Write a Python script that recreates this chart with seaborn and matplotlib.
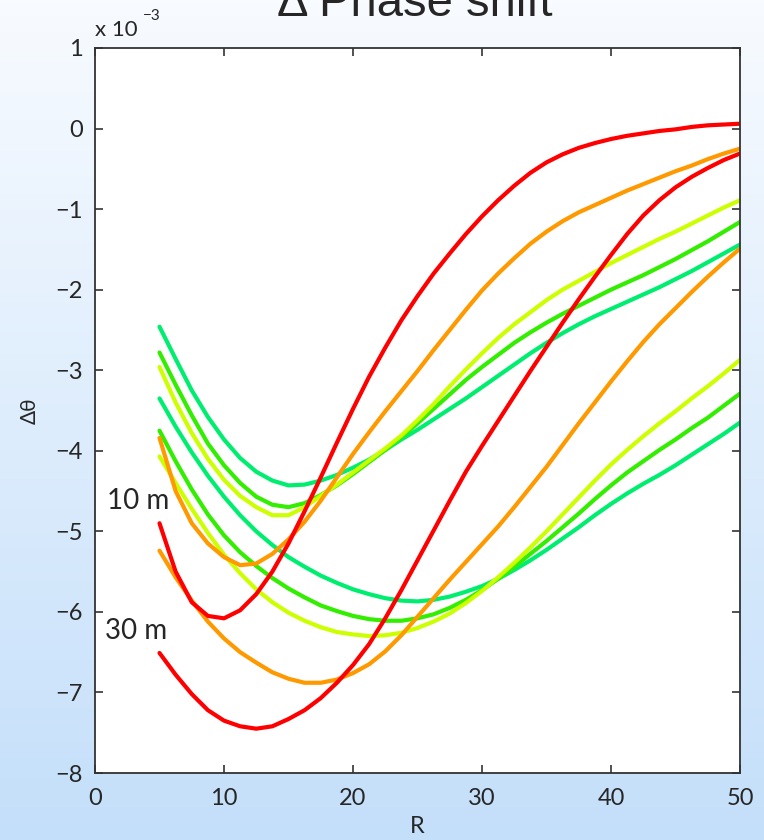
import numpy as np
import pandas as pd
import seaborn as sns
import matplotlib
matplotlib.use('Agg')
import matplotlib.pyplot as plt

# R samples, and phase shift values (units of 1e-3)
r_vals = [5.0, 6.25, 7.5, 8.75, 10.0, 11.25, 12.5, 13.75, 15.0, 16.25,
          17.5, 18.75, 20.0, 21.25, 22.5, 23.75, 25.0, 26.25, 27.5, 28.75,
          30.0, 31.25, 32.5, 33.75, 35.0, 36.25, 37.5, 38.75, 40.0, 41.25,
          42.5, 43.75, 45.0, 46.25, 47.5, 48.75, 50.0]

# 10 m family
red_10 = [-4.90, -5.50, -5.88, -6.05, -6.08, -5.98, -5.78, -5.50, -5.15, -4.75,
          -4.33, -3.90, -3.48, -3.08, -2.72, -2.38, -2.08, -1.80, -1.55, -1.31,
          -1.09, -0.89, -0.71, -0.55, -0.42, -0.32, -0.24, -0.18, -0.13, -0.09,
          -0.06, -0.03, -0.01, 0.02, 0.04, 0.05, 0.06]
orange_10 = [-3.84, -4.50, -4.90, -5.15, -5.32, -5.42, -5.40, -5.28, -5.10, -4.88,
             -4.62, -4.33, -4.04, -3.77, -3.51, -3.26, -3.01, -2.75, -2.50, -2.25,
             -2.01, -1.80, -1.61, -1.43, -1.28, -1.15, -1.04, -0.95, -0.86, -0.77,
             -0.69, -0.61, -0.53, -0.46, -0.38, -0.31, -0.25]
yellow_10 = [-2.96, -3.40, -3.78, -4.10, -4.36, -4.56, -4.70, -4.80, -4.80, -4.70,
             -4.56, -4.42, -4.27, -4.12, -3.97, -3.81, -3.62, -3.42, -3.20, -2.99,
             -2.79, -2.60, -2.43, -2.28, -2.13, -2.00, -1.89, -1.78, -1.67, -1.57,
             -1.47, -1.37, -1.28, -1.18, -1.08, -0.98, -0.89]
green_10 = [-2.78, -3.18, -3.56, -3.91, -4.18, -4.40, -4.57, -4.67, -4.70, -4.65,
            -4.55, -4.43, -4.29, -4.14, -3.99, -3.83, -3.66, -3.48, -3.30, -3.12,
            -2.96, -2.81, -2.66, -2.53, -2.41, -2.30, -2.20, -2.10, -2.00, -1.91,
            -1.82, -1.72, -1.62, -1.51, -1.40, -1.28, -1.16]
spring_10 = [-2.46, -2.86, -3.25, -3.58, -3.86, -4.09, -4.26, -4.37, -4.43, -4.42,
             -4.37, -4.30, -4.21, -4.11, -3.99, -3.86, -3.74, -3.61, -3.48, -3.35,
             -3.21, -3.07, -2.93, -2.79, -2.66, -2.54, -2.43, -2.33, -2.24, -2.15,
             -2.06, -1.97, -1.87, -1.77, -1.66, -1.55, -1.44]

# 30 m family
red_30 = [-6.51, -6.78, -7.02, -7.22, -7.35, -7.42, -7.45, -7.42, -7.33, -7.22,
          -7.07, -6.88, -6.66, -6.40, -6.08, -5.73, -5.36, -4.99, -4.62, -4.26,
          -3.94, -3.63, -3.32, -3.01, -2.71, -2.41, -2.12, -1.84, -1.57, -1.31,
          -1.08, -0.89, -0.73, -0.60, -0.49, -0.39, -0.31]
orange_30 = [-5.24, -5.57, -5.86, -6.12, -6.33, -6.50, -6.63, -6.75, -6.83, -6.88,
             -6.88, -6.84, -6.76, -6.65, -6.49, -6.29, -6.06, -5.83, -5.60, -5.38,
             -5.16, -4.94, -4.70, -4.45, -4.20, -3.93, -3.66, -3.40, -3.14, -2.89,
             -2.65, -2.43, -2.23, -2.03, -1.84, -1.66, -1.49]
yellow_30 = [-4.07, -4.40, -4.72, -5.02, -5.29, -5.52, -5.72, -5.88, -6.01, -6.11,
             -6.19, -6.25, -6.28, -6.30, -6.29, -6.26, -6.20, -6.12, -6.02, -5.89,
             -5.74, -5.57, -5.39, -5.20, -5.00, -4.79, -4.58, -4.37, -4.17, -3.99,
             -3.82, -3.66, -3.51, -3.35, -3.20, -3.04, -2.87]
green_30 = [-3.75, -4.13, -4.48, -4.79, -5.05, -5.26, -5.43, -5.58, -5.71, -5.82,
            -5.92, -5.99, -6.05, -6.09, -6.11, -6.11, -6.08, -6.03, -5.95, -5.85,
            -5.73, -5.59, -5.44, -5.28, -5.12, -4.95, -4.78, -4.60, -4.43, -4.27,
            -4.13, -3.99, -3.86, -3.72, -3.59, -3.44, -3.29]
spring_30 = [-3.35, -3.70, -4.02, -4.31, -4.57, -4.80, -5.00, -5.17, -5.32, -5.44,
             -5.55, -5.64, -5.72, -5.78, -5.83, -5.86, -5.87, -5.85, -5.81, -5.75,
             -5.68, -5.59, -5.48, -5.36, -5.23, -5.09, -4.95, -4.80, -4.66, -4.53,
             -4.41, -4.30, -4.18, -4.05, -3.92, -3.79, -3.65]

series = {
    ('red', '10 m'): red_10, ('orange', '10 m'): orange_10,
    ('yellow', '10 m'): yellow_10, ('green', '10 m'): green_10,
    ('spring', '10 m'): spring_10,
    ('red', '30 m'): red_30, ('orange', '30 m'): orange_30,
    ('yellow', '30 m'): yellow_30, ('green', '30 m'): green_30,
    ('spring', '30 m'): spring_30,
}

rows = []
for (curve, depth), vals in series.items():
    for r, v in zip(r_vals, vals):
        rows.append({'R': r, 'dtheta': v, 'curve': curve, 'depth': depth})
df = pd.DataFrame(rows)

palette = {'red': '#FF0000', 'orange': '#FF9900', 'yellow': '#CCFF00',
           'green': '#33EE00', 'spring': '#00EE70'}
hue_order = ['spring', 'green', 'yellow', 'orange', 'red']

sns.set_style('ticks')
plt.rcParams['font.family'] = ['Lato', 'DejaVu Sans']
plt.rcParams['axes.edgecolor'] = '#333333'
plt.rcParams['axes.linewidth'] = 1.3

fig = plt.figure(figsize=(7.64, 8.40), dpi=100)

# light blue vertical gradient behind everything
bg = fig.add_axes([0, 0, 1, 1], zorder=-5)
top = np.array([248, 251, 255]) / 255
bot = np.array([196, 223, 250]) / 255
t = np.linspace(0, 1, 256)[:, None]
grad = (top * (1 - t) + bot * t)[:, None, :]
bg.imshow(grad, aspect='auto', extent=[0, 1, 0, 1])
bg.axis('off')

ax = fig.add_axes([95 / 764, 1 - 773 / 840, 645 / 764, 725 / 840])
ax.set_facecolor('white')

sns.lineplot(data=df, x='R', y='dtheta', hue='curve', units='depth',
             estimator=None, palette=palette, hue_order=hue_order,
             sort=False, legend=False, linewidth=3, ax=ax)

ax.set_xlim(0, 50)
ax.set_ylim(-8, 1)
ax.set_xticks(range(0, 51, 10))
ax.set_yticks(range(-8, 2))
ax.set_yticklabels(['\u22128', '\u22127', '\u22126', '\u22125', '\u22124',
                    '\u22123', '\u22122', '\u22121', '0', '1'])
ax.tick_params(direction='in', length=6, width=1.2, color='#333333',
               top=True, right=True, labelsize=17)
ax.tick_params(axis='x', pad=11)
ax.tick_params(axis='y', pad=9)
ax.set_xlabel('R', fontsize=17, labelpad=5)
ax.set_ylabel('\u0394\u03b8', fontsize=15, labelpad=11)

ax.text(0.93, -4.62, '10 m', fontsize=20, va='center', ha='left')
ax.text(0.8, -6.24, '30 m', fontsize=20, va='center', ha='left')

ax.text(0.0, 1.0166, 'x 10', transform=ax.transAxes, fontsize=16,
        ha='left', va='baseline')
ax.text(0.075, 1.038, '\u22123', transform=ax.transAxes, fontsize=11,
        ha='left', va='baseline')

fig.text(415 / 764, 1 - 16 / 840, '\u0394 Phase shift', fontsize=34,
         ha='center', va='baseline', family=['Liberation Sans', 'DejaVu Sans'])

fig.savefig('out.png', dpi=100)
